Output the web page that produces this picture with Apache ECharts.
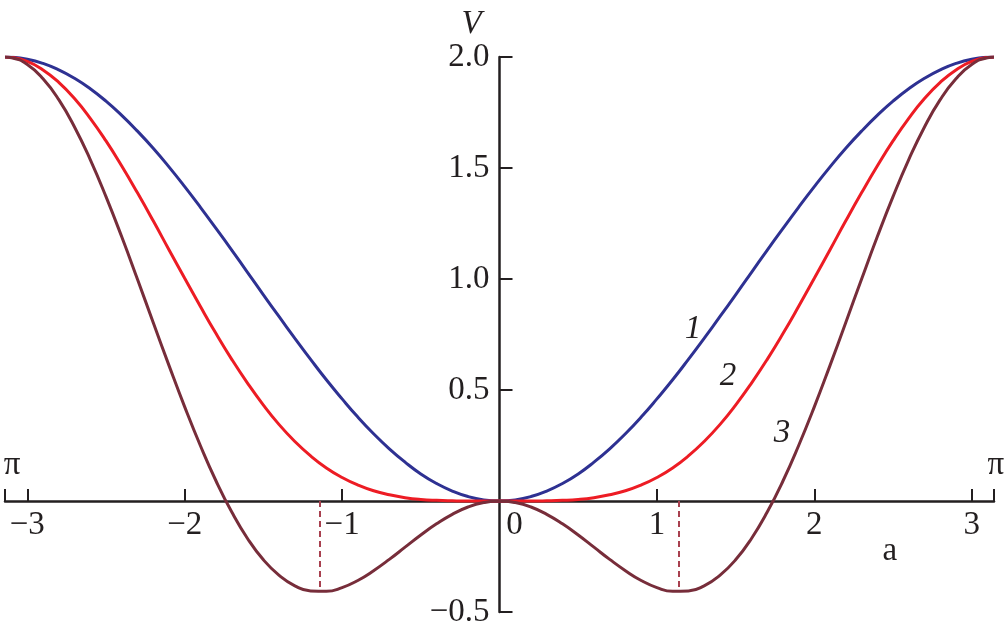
<!DOCTYPE html>
<html><head><meta charset="utf-8">
<script src="https://cdn.jsdelivr.net/npm/echarts@6/dist/echarts.min.js"></script>
<style>html,body{margin:0;background:#fff}#c{width:1007px;height:639px}</style>
</head><body><div id="c"></div>
<script>
const PI = Math.PI;
const aValues = [-PI,-3.1,-3.0,-2.9,-2.8,-2.7,-2.6,-2.5,-2.4,-2.3,-2.2,-2.1,-2.0,-1.9,-1.8,-1.7,-1.6,-1.5,-1.4,-1.3,-1.2,-1.1,-1.0,
  -0.9,-0.8,-0.7,-0.6,-0.5,-0.4,-0.3,-0.2,-0.1,0,
  0.1,0.2,0.3,0.4,0.5,0.6,0.7,0.8,0.9,1.0,1.1,1.2,1.3,1.4,1.5,1.6,1.7,1.8,1.9,2.0,2.1,2.2,2.3,2.4,2.5,2.6,2.7,2.8,2.9,3.0,3.1,PI];
const v1 = [2.0,1.999,1.990,1.971,1.942,1.904,1.857,1.801,1.737,1.666,1.589,1.505,1.416,1.323,1.227,1.129,1.029,0.929,0.830,0.733,0.638,0.546,0.460,
  0.378,0.303,0.235,0.175,0.122,0.079,0.045,0.020,0.005,0,
  0.005,0.020,0.045,0.079,0.122,0.175,0.235,0.303,0.378,0.460,0.546,0.638,0.733,0.830,0.929,1.029,1.129,1.227,1.323,1.416,1.505,1.589,1.666,1.737,1.801,1.857,1.904,1.942,1.971,1.990,1.999,2.0];
const v2 = [2.0,1.998,1.980,1.942,1.886,1.813,1.724,1.622,1.509,1.388,1.262,1.132,1.003,0.876,0.753,0.637,0.530,0.432,0.344,0.268,0.203,0.149,0.106,
  0.072,0.046,0.028,0.015,0.007,0.003,0.001,0.000,0.000,0,
  0.000,0.000,0.001,0.003,0.007,0.015,0.028,0.046,0.072,0.106,0.149,0.203,0.268,0.344,0.432,0.530,0.637,0.753,0.876,1.003,1.132,1.262,1.388,1.509,1.622,1.724,1.813,1.886,1.942,1.980,1.998,2.0];
const v3 = [2.0,1.997,1.966,1.902,1.808,1.685,1.538,1.371,1.190,0.999,0.804,0.611,0.424,0.249,0.089,-0.051,-0.170,-0.265,-0.335,-0.382,-0.405,-0.407,-0.390,
  -0.358,-0.314,-0.263,-0.208,-0.153,-0.103,-0.060,-0.027,-0.007,0,
  -0.007,-0.027,-0.060,-0.103,-0.153,-0.208,-0.263,-0.314,-0.358,-0.390,-0.407,-0.405,-0.382,-0.335,-0.265,-0.170,-0.051,0.089,0.249,0.424,0.611,0.804,0.999,1.190,1.371,1.538,1.685,1.808,1.902,1.966,1.997,2.0];
const xTickValues = [-PI,-3,-2,-1,1,2,3,PI];
const xLabelValues = [-3,-2,-1,0,1,2,3];
const dashA = [-1.14, 1.14];
const dashMin = -0.405;
const curveLabels = [['1',1.23,0.775],['2',1.452,0.563],['3',1.795,0.306]];
const piLabels = [['π',-3.097,0.162],['π',3.154,0.162]];
const axisNameA = [['a',2.48,-0.225]];

const X_MIN = -PI, X_MAX = PI, Y_MIN = -0.5, Y_MAX = 2.0;
const W = 1007, H = 639;
const G = {left:5, right:13, top:57, bottom:27};
const gw = W - G.left - G.right, gh = H - G.top - G.bottom;
const xAxisOffset = -gh * (0 - Y_MIN) / (Y_MAX - Y_MIN);
const yAxisOffset = -gw * (0 - X_MIN) / (X_MAX - X_MIN);

const INK = '#231f20';
const FONT = 'Liberation Serif';
const C1 = '#2e3192', C2 = '#ed1c24', C3 = '#772d3a';
const zip = ys => aValues.map((a,i)=>[a, ys[i]]);
const minus = v => v < 0 ? '\u2212' + String(Math.abs(v)) : String(v);

const textSeries = (items, italic) => ({
  type:'scatter', symbolSize:0, silent:true, clip:false, z:10,
  itemStyle:{opacity:1},
  data: items.map(d=>({value:[d[1],d[2]], name:d[0]})),
  label:{show:true, position:'inside', opacity:1, formatter:p=>p.name, color:INK,
    fontFamily:FONT, fontSize:33, fontStyle: italic?'italic':'normal'}
});

const chart = echarts.init(document.getElementById('c'));
chart.setOption({
  animation:false,
  backgroundColor:'#fff',
  grid:{left:G.left, right:G.right, top:G.top, bottom:G.bottom, containLabel:false, outerBoundsMode:'none'},
  xAxis:{type:'value', min:X_MIN, max:X_MAX, position:'bottom', offset:xAxisOffset,
    axisLine:{onZero:false, lineStyle:{color:INK, width:2.5}},
    axisTick:{show:true, inside:true, length:12, customValues:xTickValues, lineStyle:{color:INK, width:2}},
    axisLabel:{customValues:xLabelValues, margin:8, color:INK, fontFamily:FONT, fontSize:33,
      formatter:v=> v===0 ? '{z|0}' : minus(v),
      rich:{z:{padding:[0,0,0,30], fontFamily:FONT, fontSize:33, color:INK}}},
    splitLine:{show:false}},
  yAxis:{type:'value', min:Y_MIN, max:Y_MAX, interval:0.5, position:'left', offset:yAxisOffset,
    name:'V', nameLocation:'end', nameGap:14,
    nameTextStyle:{fontFamily:FONT, fontSize:33, fontStyle:'italic', color:INK, padding:[0,56,0,0]},
    axisLine:{onZero:false, lineStyle:{color:INK, width:2.5}},
    axisTick:{show:true, inside:true, length:13, lineStyle:{color:INK, width:2}},
    axisLabel:{margin:10, color:INK, fontFamily:FONT, fontSize:33,
      formatter:v=> v===0 ? '' : (v<0 ? '\u2212'+Math.abs(v).toFixed(1) : v.toFixed(1))},
    splitLine:{show:false}},
  series:[
    {type:'line', data:zip(v1), showSymbol:false, smooth:0.5, lineStyle:{color:C1, width:3}, z:3},
    {type:'line', data:zip(v2), showSymbol:false, smooth:0.5, lineStyle:{color:C2, width:3}, z:3},
    {type:'line', data:zip(v3), showSymbol:false, smooth:0.5, lineStyle:{color:C3, width:3}, z:3,
      markLine:{symbol:'none', silent:true, label:{show:false},
        lineStyle:{type:[6,4], color:'#a8404f', width:2},
        data: dashA.map(a=>[{coord:[a,0]},{coord:[a,dashMin]}])}},
    textSeries(curveLabels, true),
    textSeries(piLabels, false),
    textSeries(axisNameA, false)
  ]
});
</script></body></html>
